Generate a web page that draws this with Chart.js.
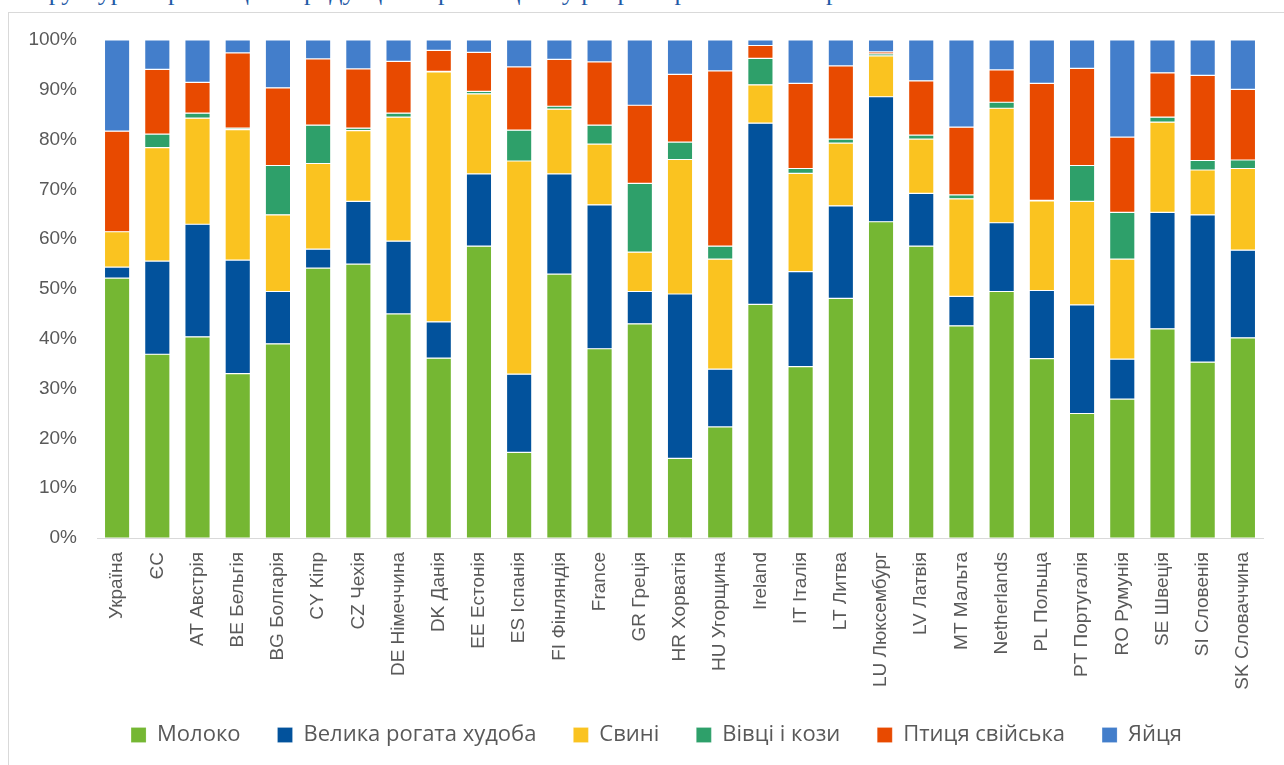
<!DOCTYPE html>
<html lang="uk">
<head>
<meta charset="utf-8">
<title>Структура виробництва продукції тваринництва</title>
<script src="https://cdn.jsdelivr.net/npm/chart.js@4.4.1/dist/chart.umd.min.js"></script>
<style>
  html, body { margin: 0; padding: 0; background: #ffffff; overflow: hidden; }
  #page { position: relative; width: 1284px; height: 765px; overflow: hidden; }
  #heading {
    position: absolute; left: 20px; top: -21px; white-space: nowrap;
    font-family: "Liberation Serif", "DejaVu Serif", serif; font-size: 26px; line-height: 26px;
    color: #1f5aa6;
  }
  #frame {
    position: absolute; left: 8px; top: 12px; width: 1300px; height: 800px;
    border: 1px solid #d9d9d9; box-sizing: border-box;
  }
  #chart { position: absolute; left: 0; top: 0; }
</style>
</head>
<body>
<div id="page">
  <div id="heading">Структура виробництва продукції тваринництва у розрізі країн ЄС та України</div>
  <div id="frame"></div>
  <canvas id="chart" width="1284" height="765"></canvas>
</div>
<script>
// Categories: Ukraine, EU average and member states
const categories = [
  "Україна", "ЄС", "AT Австрія", "BE Бельгія", "BG Болгарія", "CY Кіпр", "CZ Чехія",
  "DE Німеччина", "DK Данія", "EE Естонія", "ES Іспанія", "FI Фінляндія", "France",
  "GR Греція", "HR Хорватія", "HU Угорщина", "Ireland", "IT Італія", "LT Литва",
  "LU Люксембург", "LV Латвія", "MT Мальта", "Netherlands", "PL Польща", "PT Португалія",
  "RO Румунія", "SE Швеція", "SI Словенія", "SK Словаччина"
];

// Shares of each product group, %
const milk    = [52.2, 36.9, 40.4, 33.0, 39.0, 54.2, 55.0, 45.0, 36.1, 58.6, 17.2, 53.0, 38.0, 43.0, 16.0, 22.3, 46.9, 34.4, 48.1, 63.5, 58.6, 42.6, 49.5, 36.0, 25.0, 27.9, 42.0, 35.3, 40.2];
const cattle  = [ 2.2, 18.7, 22.6, 22.8, 10.5,  3.8, 12.6, 14.6,  7.3, 14.5, 15.7, 20.1, 28.9,  6.5, 33.0, 11.6, 36.4, 19.1, 18.6, 25.1, 10.6,  5.9, 13.8, 13.7, 21.8,  8.0, 23.4, 29.6, 17.6];
const pigs    = [ 7.1, 22.8, 21.3, 26.2, 15.4, 17.2, 14.2, 24.9, 50.2, 16.1, 42.8, 13.0, 12.2,  7.9, 27.0, 22.1,  7.7, 19.7, 12.6,  8.2, 10.9, 19.6, 23.0, 18.0, 20.8, 20.1, 18.1,  9.0, 16.4];
const sheep   = [ 0.0,  2.7,  1.0,  0.3,  9.9,  7.7,  0.5,  0.8,  0.1,  0.5,  6.2,  0.6,  3.8, 13.8,  3.5,  2.6,  5.3,  1.0,  0.8,  0.4,  0.8,  0.8,  1.2,  0.1,  7.2,  9.4,  1.0,  1.9,  1.7];
const poultry = [20.2, 13.0,  6.2, 15.1, 15.6, 13.3, 11.9, 10.4,  4.2,  7.8, 12.7,  9.4, 12.7, 15.7, 13.6, 35.2,  2.6, 17.1, 14.7,  0.4, 10.9, 13.6,  6.5, 23.5, 19.5, 15.1,  8.9, 17.1, 14.2];
const eggs    = [18.3,  5.9,  8.5,  2.6,  9.6,  3.8,  5.8,  4.3,  2.1,  2.5,  5.4,  3.9,  4.4, 13.1,  6.9,  6.2,  1.1,  8.7,  5.2,  2.4,  8.2, 17.5,  6.0,  8.7,  5.7, 19.5,  6.6,  7.1,  9.9];

// Y axis tick values
const yTicks = [0, 10, 20, 30, 40, 50, 60, 70, 80, 90, 100];

const seriesNames  = ["Молоко", "Велика рогата худоба", "Свині", "Вівці і кози", "Птиця свійська", "Яйця"];
const seriesValues = [milk, cattle, pigs, sheep, poultry, eggs];
const seriesColors = ["#75b733", "#02529c", "#fac320", "#2ea06a", "#e84a00", "#437ecb"];

const datasets = seriesNames.map((name, i) => ({
  label: name,
  data: seriesValues[i],
  backgroundColor: seriesColors[i],
  borderColor: "rgba(255,255,255,0.3)",
  borderWidth: 0.6,
  borderSkipped: false,
  barPercentage: 0.63,
  categoryPercentage: 1.0
}));

const textColor = "#595959";
const baseFont = "'Liberation Sans', Arial, sans-serif";

// Places the legend row: nudged right of the canvas centre and pinned vertically
const legendPlacement = {
  id: "legendPlacement",
  afterLayout(chart) {
    const lg = chart.legend;
    if (!lg) return;
    lg.left += 25; lg.right += 25;
    const h = lg.bottom - lg.top;
    lg.top = 687; lg.bottom = 687 + h;
  }
};

new Chart(document.getElementById("chart"), {
  type: "bar",
  data: { labels: categories, datasets },
  plugins: [legendPlacement],
  options: {
    responsive: false,
    animation: false,
    devicePixelRatio: 1,
    layout: { padding: { left: 0, right: 21, top: 40, bottom: 0 } },
    plugins: {
      title: { display: false },
      tooltip: { enabled: false },
      legend: {
        position: "bottom",
        labels: {
          boxWidth: 15,
          boxHeight: 15,
          padding: 37,
          color: textColor,
          font: { family: "'Open Sans', " + baseFont, size: 22 }
        }
      }
    },
    scales: {
      x: {
        stacked: true,
        grid: { display: false, drawTicks: false },
        border: { display: true, color: "#d9d9d9", width: 1 },
        ticks: {
          autoSkip: false,
          minRotation: 90,
          maxRotation: 90,
          padding: 14,
          color: textColor,
          font: { family: baseFont, size: 19 }
        },
        afterFit: (scale) => { scale.height = 158; }
      },
      y: {
        stacked: true,
        min: 0,
        max: 100,
        afterBuildTicks: (scale) => { scale.ticks = yTicks.map(v => ({ value: v })); },
        grid: { display: false, drawTicks: false },
        border: { display: false },
        ticks: {
          padding: 20,
          color: textColor,
          font: { family: baseFont, size: 19 },
          callback: (v) => v + "%"
        },
        afterFit: (scale) => { scale.width = 97; }
      }
    }
  }
});
</script>
</body>
</html>
